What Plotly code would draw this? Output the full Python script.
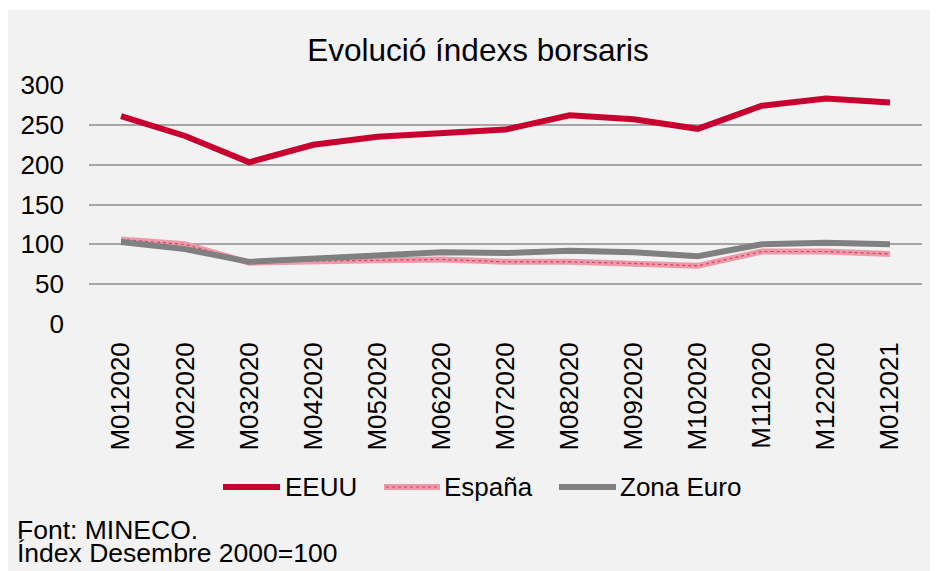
import plotly.graph_objects as go

months = ["M012020", "M022020", "M032020", "M042020", "M052020", "M062020", "M072020",
          "M082020", "M092020", "M102020", "M112020", "M122020", "M012021"]
eeuu = [261, 236, 203, 225, 235, 239, 244, 262, 257, 245, 274, 283, 278]
espana = [106, 100, 77, 79, 80, 81, 78, 78, 76, 73, 91, 91, 88]
zona_euro = [103, 94, 78, 82, 86, 90, 89, 92, 90, 85, 100, 102, 100]
y_ticks = [0, 50, 100, 150, 200, 250, 300]
series_names = ["EEUU", "España", "Zona Euro"]

FONT = "Liberation Sans, Arial, sans-serif"
FS = 26
OFF = 8  # page body margin
W, H = 938 - OFF, 571 - OFF
# plot area in page pixels
PX0, PX1, PY0, PY1 = 89, 922, 85, 324
L, R, T, B = PX0 - OFF, W - (PX1 - OFF), PY0 - OFF, H - (PY1 - OFF)
ph = PY1 - PY0
pw = PX1 - PX0

RED = "#c8002f"
PINK = "#ec9aaa"
PINK_DOT = "#d4405e"
GREY = "#808080"


def py(pix):
    return (PY1 - pix) / ph


def px(pix):
    return (pix - PX0) / pw


fig = go.Figure()
fig.add_trace(go.Scatter(x=months, y=eeuu, name=series_names[0], mode="lines",
                         line=dict(color=RED, width=6)))
fig.add_trace(go.Scatter(x=months, y=espana, name=series_names[1], mode="lines",
                         line=dict(color=PINK, width=6)))
fig.add_trace(go.Scatter(x=months, y=espana, name=series_names[1], mode="lines",
                         hoverinfo="skip",
                         line=dict(color=PINK_DOT, width=1.2, dash="dot")))
fig.add_trace(go.Scatter(x=months, y=zona_euro, name=series_names[2], mode="lines",
                         line=dict(color=GREY, width=6)))

shapes = [dict(type="rect", xref="paper", yref="paper",
               x0=px(0), x1=px(960), y0=py(600), y1=py(10),
               fillcolor="#f2f2f2", line=dict(width=0), layer="below")]

# legend (drawn manually to match the original's longer key lines)
leg_y = py(487)
leg_items = [(223, 280, 283, RED), (384, 440, 442, PINK), (559, 616, 618, GREY)]
annotations = []
for name, (lx0, lx1, tx, col) in zip(series_names, leg_items):
    shapes.append(dict(type="line", xref="paper", yref="paper", x0=px(lx0), x1=px(lx1),
                       y0=leg_y, y1=leg_y, line=dict(color=col, width=6)))
    annotations.append(dict(text=name, xref="paper", yref="paper", x=px(tx), y=leg_y,
                            xanchor="left", yanchor="middle", showarrow=False,
                            font=dict(family=FONT, size=FS, color="#000000")))
shapes.append(dict(type="line", xref="paper", yref="paper", x0=px(386), x1=px(438),
                   y0=leg_y, y1=leg_y, line=dict(color=PINK_DOT, width=1.2, dash="dot")))

annotations += [
    dict(text="Font: MINECO.", xref="paper", yref="paper", x=px(15), y=py(530),
         xanchor="left", yanchor="middle", showarrow=False,
         font=dict(family=FONT, size=26.5, color="#000000")),
    dict(text="Índex Desembre 2000=100", xref="paper", yref="paper", x=px(15), y=py(553),
         xanchor="left", yanchor="middle", showarrow=False,
         font=dict(family=FONT, size=26.5, color="#000000")),
]

fig.update_layout(
    width=W, height=H,
    margin=dict(l=L, r=R, t=T, b=B, pad=0, autoexpand=False),
    paper_bgcolor="#ffffff",
    plot_bgcolor="#f2f2f2",
    font=dict(family=FONT, size=FS, color="#000000"),
    title=dict(text="Evolució índexs borsaris", x=(478 - OFF) / W, xanchor="center",
               y=1 - (50 - OFF) / H, yanchor="middle",
               font=dict(family=FONT, size=31.5, color="#000000")),
    showlegend=False,
    xaxis=dict(type="category", range=[-0.5, len(months) - 0.5], tickangle=-90,
               showgrid=False, zeroline=False, automargin=False,
               showline=False, ticks="", ticklabelstandoff=12,
               tickfont=dict(family=FONT, size=FS, color="#000000")),
    yaxis=dict(range=[0, 300], tickvals=y_ticks, showgrid=True, automargin=False,
               gridcolor="#a6a6a6", gridwidth=2, zeroline=False, showline=False,
               ticks="", ticklabelstandoff=24,
               tickfont=dict(family=FONT, size=FS, color="#000000")),
    shapes=shapes,
    annotations=annotations,
)

fig.write_html("out.html")
